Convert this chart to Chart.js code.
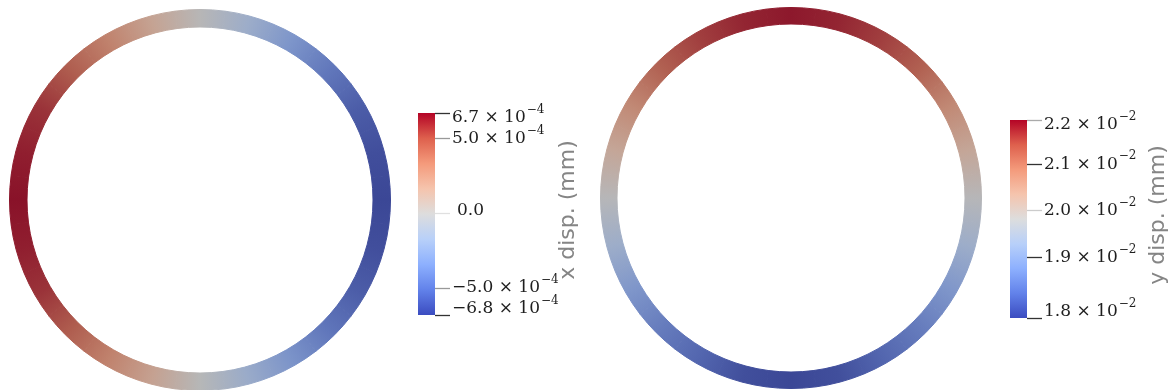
<!DOCTYPE html>
<html>
<head>
<meta charset="utf-8">
<script src="https://cdn.jsdelivr.net/npm/chart.js@4/dist/chart.umd.min.js"></script>
<style>
  html, body { margin: 0; padding: 0; background: #fff; }
  body { width: 1169px; height: 390px; position: relative; overflow: hidden; }
  canvas { position: absolute; }
</style>
</head>
<body>
<canvas id="ringX" width="382" height="382" style="left:9px;top:9px"></canvas>
<canvas id="barX" width="200" height="230" style="left:400px;top:100px"></canvas>
<canvas id="ringY" width="382" height="382" style="left:600px;top:7px"></canvas>
<canvas id="barY" width="179" height="230" style="left:990px;top:100px"></canvas>
<script>
// --- Data ---
// sample angles round each ring, degrees clockwise from 12 o'clock
const ringAngles = [0, 15, 30, 45, 60, 75, 90, 105, 120, 135, 150, 165,
                    180, 195, 210, 225, 240, 255, 270, 285, 300, 315, 330, 345];

// x displacement round the left ring (x 10^-4 mm)
const xDisp = [0.0, -1.7, -3.4, -4.8, -5.9, -6.5, -6.8, -6.5, -5.9, -4.9, -3.5, -1.9,
               -0.1, 1.8, 3.4, 4.8, 5.9, 6.4, 6.7, 6.4, 5.9, 4.8, 3.4, 1.7];

// y displacement round the right ring (x 10^-2 mm)
const yDisp = [2.19, 2.18, 2.16, 2.13, 2.08, 2.03, 1.98, 1.93, 1.88, 1.84, 1.81, 1.78,
               1.77, 1.78, 1.81, 1.84, 1.88, 1.93, 1.98, 2.03, 2.08, 2.13, 2.16, 2.18];

// colour bar ranges and ticks
const xRange = [-6.8, 6.7];
const xTicks = [6.7, 5.0, 0.0, -5.0, -6.8];
const xExp = -4;
const yRange = [1.77, 2.195];
const yTicks = [2.195, 2.1, 2.0, 1.9, 1.77];
const yExp = -2;

// --- Cool to Warm colour map ---
const cmapPos = [0, 0.125, 0.25, 0.375, 0.5, 0.625, 0.75, 0.875, 1];
const cmapRGB = [
  [59, 76, 192], [98, 130, 234], [141, 176, 254], [184, 208, 249], [221, 221, 221],
  [245, 196, 173], [244, 154, 123], [222, 96, 77], [180, 4, 38]
];

// shade < 1 mimics the lit, slightly greyed surface of the 3D rings
function cmap(t, shade = 1) {
  t = Math.min(Math.max(t, 0), 1);
  let i = 0;
  while (i < cmapPos.length - 2 && t > cmapPos[i + 1]) i++;
  const f = (t - cmapPos[i]) / (cmapPos[i + 1] - cmapPos[i]);
  let c = cmapRGB[i].map((v, k) => v + (cmapRGB[i + 1][k] - v) * f);
  if (shade < 1) {
    const grey = (c[0] + c[1] + c[2]) / 3;
    c = c.map((v) => (v * 0.85 + grey * 0.15) * shade + 6);
  }
  return `rgb(${c.map((v) => Math.round(Math.min(v, 255))).join(",")})`;
}

const spans = ringAngles.map((a, i) => (ringAngles[i + 1] ?? 360) - a);

// conic gradient through the sampled values, shared by every slice of a ring
function ringFill(values, range) {
  let cache = null;
  return (ctx) => {
    const area = ctx.chart.chartArea;
    if (!area) return "#ccc";
    if (cache) return cache;
    const cx = (area.left + area.right) / 2;
    const cy = (area.top + area.bottom) / 2;
    const g = ctx.chart.ctx.createConicGradient(-Math.PI / 2, cx, cy);
    const col = (v) => cmap((v - range[0]) / (range[1] - range[0]), 0.8);
    ringAngles.forEach((a, i) => g.addColorStop(a / 360, col(values[i])));
    g.addColorStop(1, col(values[0]));
    cache = g;
    return g;
  };
}

function buildRing(id, values, range, cutout) {
  const fill = ringFill(values, range);
  return new Chart(document.getElementById(id), {
    type: "doughnut",
    data: {
      labels: ringAngles.map((a) => a + "°"),
      datasets: [{ data: spans, backgroundColor: fill, borderColor: fill, borderWidth: 1 }]
    },
    options: {
      responsive: false,
      animation: false,
      rotation: -7.5,
      cutout: cutout,
      layout: { padding: 0 },
      plugins: { legend: { display: false }, tooltip: { enabled: false } }
    }
  });
}

// --- Colour bar text (labels with superscript exponent, axis title) ---
function fmtMantissa(v) {
  if (Math.abs(v) < 1e-9) return null;
  return (v < 0 ? "\u2212" : "") + Math.abs(v).toFixed(1);
}

function colorbarText(tickValues, exp, title, titleX, titleDy) {
  return {
    id: "colorbarText",
    afterDraw(chart) {
      const { ctx, chartArea, scales } = chart;
      const x0 = chartArea.right + 17;
      ctx.save();
      ctx.fillStyle = "#1e1e1e";
      ctx.textBaseline = "middle";
      ctx.textAlign = "left";
      tickValues.forEach((v) => {
        let py = scales.y.getPixelForValue(v);
        py = Math.min(Math.max(py, chartArea.top + 5), chartArea.bottom - 6);
        const m = fmtMantissa(v);
        ctx.font = "17px 'DejaVu Serif'";
        if (m === null) {
          ctx.fillText("0.0", x0 + 5, py - 3);
          return;
        }
        const main = m + " \u00d7 10";
        ctx.fillText(main, x0, py);
        const w = ctx.measureText(main).width;
        ctx.font = "12px 'DejaVu Serif'";
        ctx.fillText("\u2212" + Math.abs(exp), x0 + w + 1, py - 8);
      });
      ctx.translate(titleX, (chartArea.top + chartArea.bottom) / 2 + titleDy);
      ctx.rotate(-Math.PI / 2);
      ctx.textAlign = "center";
      ctx.fillStyle = "#858585";
      ctx.font = "22px 'DejaVu Sans'";
      ctx.fillText(title, 0, 0);
      ctx.restore();
    }
  };
}

function buildBar(id, range, tickValues, tickColors, exp, title, pad, axisWidth, titleX, titleDy) {
  return new Chart(document.getElementById(id), {
    type: "bar",
    data: {
      labels: [title],
      datasets: [{
        data: [[range[0], range[1]]],
        barPercentage: 1,
        categoryPercentage: 1,
        borderWidth: 0,
        backgroundColor: (ctx) => {
          const area = ctx.chart.chartArea;
          if (!area) return "#ddd";
          const g = ctx.chart.ctx.createLinearGradient(0, area.bottom, 0, area.top);
          cmapPos.forEach((p) => g.addColorStop(p, cmap(p)));
          return g;
        }
      }]
    },
    options: {
      responsive: false,
      animation: false,
      layout: { padding: pad },
      scales: {
        x: { display: false },
        y: {
          position: "right",
          min: range[0],
          max: range[1],
          afterBuildTicks: (scale) => { scale.ticks = tickValues.map((v) => ({ value: v })); },
          afterFit: (scale) => { scale.width = axisWidth; },
          ticks: { display: false },
          border: { display: false },
          grid: {
            drawOnChartArea: false,
            drawTicks: true,
            tickLength: 15,
            tickWidth: 1.3,
            tickColor: (ctx) => tickColors[ctx.index] || "#555"
          }
        }
      },
      plugins: { legend: { display: false }, tooltip: { enabled: false } }
    },
    plugins: [colorbarText(tickValues, exp, title, titleX, titleDy)]
  });
}

// --- Init ---
buildRing("ringX", xDisp, xRange, 173);
buildRing("ringY", yDisp, yRange, 174);
buildBar("barX", xRange, xTicks, ["#333", "#999", "#e0e0e0", "#999", "#333"], xExp,
  "x disp. (mm)", { left: 18, top: 13, bottom: 15, right: 0 }, 165, 168, -4);
buildBar("barY", yRange, yTicks, ["#aaa", "#333", "#ccc", "#333", "#333"], yExp,
  "y disp. (mm)", { left: 20, top: 20, bottom: 12, right: 0 }, 142, 168, -4);
</script>
</body>
</html>
